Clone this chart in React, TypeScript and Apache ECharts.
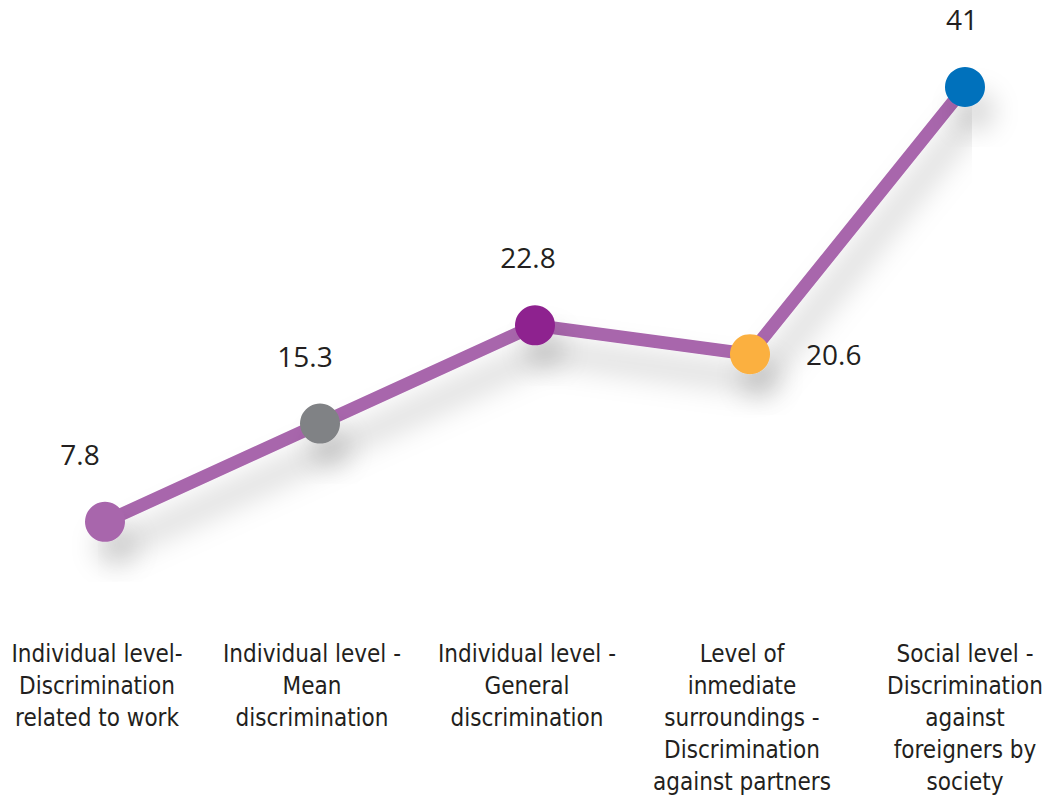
import React, { useEffect, useRef } from "react";
import * as echarts from "echarts";

const categories = [
  "Individual level-\nDiscrimination\nrelated to work",
  "Individual level -\nMean\ndiscrimination",
  "Individual level -\nGeneral\ndiscrimination",
  "Level of\ninmediate\nsurroundings -\nDiscrimination\nagainst partners",
  "Social level -\nDiscrimination\nagainst\nforeigners by\nsociety",
];
const values = [7.8, 15.3, 22.8, 20.6, 41];
const pointColors = ["#a866ac", "#808285", "#8e248f", "#fbb040", "#0071bc"];

export default function App() {
  const ref = useRef<HTMLDivElement>(null);
  useEffect(() => {
    document.body.style.margin = "0";
    const chart = echarts.init(ref.current!, null, { renderer: "svg" });
    const labelOffsets = [[-25, 0], [-15, 0], [-7, 0], null, [-3, 0]];
    chart.setOption({
      animation: false,
      backgroundColor: "#ffffff",
      grid: { left: 105, right: 87, top: 87, bottom: 175, containLabel: false },
      xAxis: {
        type: "category",
        data: categories,
        boundaryGap: false,
        axisLine: { show: false },
        axisTick: { show: false },
        splitLine: { show: false },
        axisLabel: {
          interval: 0,
          margin: 14,
          formatter: (v: string, i: number) =>
            v
              .split("\n")
              .map((l) => `{${i < 4 ? "a" : "b"}|${l}}`)
              .join("\n"),
          rich: {
            a: {
              fontFamily: "Liberation Sans Narrow, DejaVu Sans Condensed, sans-serif",
              fontSize: 24,
              lineHeight: 32,
              color: "#231f20",
              padding: [0, 16, 0, 0],
            },
            b: {
              fontFamily: "Liberation Sans Narrow, DejaVu Sans Condensed, sans-serif",
              fontSize: 24,
              lineHeight: 32,
              color: "#231f20",
            },
          },
        },
      },
      yAxis: {
        type: "value",
        min: 0,
        max: 41,
        show: false,
        splitLine: { show: false },
      },
      series: [
        {
          type: "line",
          data: values.map((v, i) => {
            const d: any = {
              value: v,
              itemStyle: { color: pointColors[i] },
            };
            if (i === 3) {
              d.label = { position: "right", distance: 36 };
            } else {
              d.label = { position: "top", distance: 34, offset: labelOffsets[i] };
            }
            return d;
          }),
          symbol: "circle",
          symbolSize: 40,
          lineStyle: {
            color: "#a866ac",
            width: 13,
            shadowColor: "rgba(0,0,0,0.25)",
            shadowBlur: 30,
            shadowOffsetX: 10,
            shadowOffsetY: 26,
          },
          itemStyle: {
            shadowColor: "rgba(0,0,0,0.15)",
            shadowBlur: 26,
            shadowOffsetX: 10,
            shadowOffsetY: 24,
          },
          label: {
            show: true,
            fontFamily: "Open Sans, sans-serif",
            fontSize: 28,
            color: "#231f20",
          },
          emphasis: { disabled: true },
        },
      ],
    });
    return () => chart.dispose();
  }, []);
  return <div ref={ref} style={{ width: 1052, height: 799 }} />;
}
